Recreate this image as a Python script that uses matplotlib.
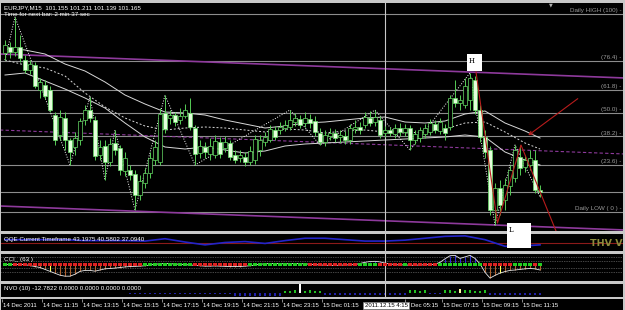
import matplotlib
matplotlib.use("Agg")
import matplotlib.pyplot as plt
from matplotlib.patches import Rectangle
from matplotlib import font_manager

# ---------------- data ----------------
opens = [102.54, 102.60, 102.55, 102.60, 102.47, 102.37, 102.42, 102.17, 102.22, 102.17,
         101.92, 101.72, 101.89, 101.67, 101.60, 101.67, 101.87, 101.97, 101.87, 101.52,
         101.61, 101.45, 101.64, 101.59, 101.36, 101.37, 101.33, 101.12, 101.24, 101.34,
         101.47, 101.45, 101.94, 101.89, 101.92, 101.87, 101.91, 101.94, 101.79, 101.54,
         101.60, 101.53, 101.52, 101.65, 101.59, 101.64, 101.52, 101.49, 101.50, 101.45,
         101.47, 101.57, 101.65, 101.67, 101.77, 101.77, 101.79, 101.80, 101.85, 101.88,
         101.84, 101.88, 101.86, 101.74, 101.65, 101.71, 101.74, 101.70, 101.71, 101.67,
         101.78, 101.80, 101.82, 101.89, 101.85, 101.87, 101.74, 101.77, 101.73, 101.79,
         101.75, 101.79, 101.67, 101.69, 101.73, 101.75, 101.83, 101.76, 101.79, 101.80,
         102.09, 102.04, 102.02, 102.07, 102.27, 101.97, 101.70, 101.57, 100.97, 101.19,
         101.07, 101.21, 101.29, 101.50, 101.40, 101.42, 101.47, 101.17]
closes = [102.62, 102.55, 102.60, 102.49, 102.37, 102.43, 102.21, 102.25, 102.11, 101.97,
          101.67, 101.90, 101.67, 101.55, 101.69, 101.86, 101.97, 101.89, 101.51, 101.60,
          101.45, 101.63, 101.57, 101.37, 101.49, 101.32, 101.12, 101.26, 101.34, 101.49,
          101.60, 101.93, 101.78, 101.92, 101.85, 101.91, 101.97, 101.80, 101.53, 101.61,
          101.55, 101.61, 101.66, 101.53, 101.65, 101.50, 101.47, 101.52, 101.45, 101.56,
          101.68, 101.67, 101.70, 101.78, 101.70, 101.80, 101.82, 101.87, 101.89, 101.82,
          101.89, 101.84, 101.75, 101.65, 101.72, 101.74, 101.69, 101.72, 101.67, 101.79,
          101.80, 101.77, 101.90, 101.84, 101.90, 101.72, 101.77, 101.74, 101.79, 101.75,
          101.79, 101.67, 101.73, 101.77, 101.79, 101.84, 101.77, 101.85, 101.74, 102.09,
          102.04, 102.07, 102.21, 102.29, 101.97, 101.70, 101.55, 100.97, 101.19, 101.02,
          101.22, 101.37, 101.57, 101.39, 101.47, 101.49, 101.17, 101.15]
highs = [102.67, 102.65, 102.90, 102.72, 102.52, 102.47, 102.45, 102.29, 102.27, 102.21,
         101.95, 101.97, 101.95, 101.69, 101.75, 101.89, 102.02, 102.10, 101.91, 101.67,
         101.67, 101.69, 101.77, 101.62, 101.55, 101.42, 101.37, 101.32, 101.39, 101.55,
         101.67, 101.99, 102.12, 101.97, 101.95, 101.99, 102.03, 102.09, 101.82, 101.67,
         101.65, 101.69, 101.72, 101.70, 101.71, 101.67, 101.57, 101.57, 101.55, 101.61,
         101.72, 101.72, 101.75, 101.82, 101.81, 101.85, 101.87, 101.97, 101.94, 101.92,
         101.95, 101.93, 101.91, 101.79, 101.77, 101.79, 101.78, 101.77, 101.76, 101.83,
         101.87, 101.85, 101.95, 101.96, 101.97, 101.91, 101.81, 101.80, 101.83, 101.84,
         101.83, 101.82, 101.77, 101.80, 101.83, 101.88, 101.87, 101.89, 101.83, 102.12,
         102.27, 102.12, 102.29, 102.34, 102.31, 102.02, 101.77, 101.61, 101.24, 101.27,
         101.29, 101.42, 101.62, 101.62, 101.52, 101.57, 101.57, 101.22]
lows = [102.47, 102.49, 102.51, 102.45, 102.34, 102.33, 102.19, 102.09, 102.08, 101.95,
        101.62, 101.67, 101.57, 101.42, 101.52, 101.62, 101.82, 101.85, 101.47, 101.47,
        101.27, 101.41, 101.52, 101.32, 101.31, 101.27, 100.97, 101.07, 101.19, 101.29,
        101.42, 101.42, 101.74, 101.83, 101.81, 101.83, 101.89, 101.77, 101.42, 101.49,
        101.49, 101.47, 101.49, 101.49, 101.55, 101.47, 101.44, 101.45, 101.41, 101.42,
        101.43, 101.51, 101.61, 101.65, 101.67, 101.73, 101.76, 101.77, 101.81, 101.79,
        101.80, 101.79, 101.71, 101.62, 101.61, 101.67, 101.65, 101.64, 101.63, 101.63,
        101.74, 101.73, 101.79, 101.81, 101.81, 101.69, 101.70, 101.71, 101.69, 101.71,
        101.71, 101.57, 101.63, 101.65, 101.69, 101.72, 101.74, 101.73, 101.67, 101.77,
        102.00, 101.97, 101.99, 101.97, 101.93, 101.65, 101.49, 100.92, 100.82, 100.92,
        100.97, 101.12, 101.25, 101.32, 101.35, 101.37, 101.14, 101.10]

ma_idx = [0, 4, 8, 12, 16, 20, 24, 28, 32, 36, 40, 44, 48, 52, 56, 60, 64, 68, 72, 76,
          80, 84, 88, 92, 96, 100, 104, 107]
ma_upper = [102.59, 102.57, 102.53, 102.43, 102.36, 102.25, 102.12, 102.03, 101.95, 101.94,
            101.92, 101.87, 101.83, 101.79, 101.81, 101.84, 101.85, 101.87, 101.89, 101.90,
            101.85, 101.84, 101.86, 101.93, 101.96, 101.84, 101.76, 101.69]
ma_mid = [102.47, 102.42, 102.39, 102.31, 102.14, 102.00, 101.89, 101.81, 101.77, 101.79,
          101.80, 101.79, 101.77, 101.75, 101.78, 101.77, 101.74, 101.76, 101.77, 101.75,
          101.74, 101.75, 101.78, 101.84, 101.85, 101.75, 101.64, 101.58]
ma_lower = [102.32, 102.34, 102.26, 102.18, 102.09, 101.99, 101.84, 101.70, 101.60, 101.58,
            101.60, 101.57, 101.54, 101.56, 101.61, 101.63, 101.64, 101.65, 101.66, 101.67,
            101.68, 101.69, 101.70, 101.72, 101.70, 101.55, 101.47, 101.42]

daily_high = 102.93
daily_low = 100.95
bid_price = 101.155
fib_pcts = [100, 76.4, 61.8, 50.0, 38.2, 23.6, 0]
fib_labels = ["Daily HIGH (100) -", "(76.4) -", "(61.8) -", "(50.0) -",
              "(38.2) -", "(23.6) -", "Daily LOW ( 0 ) -"]

channel_x = [-1, 124]
channel_upper = [102.53, 102.29]
channel_mid = [101.77, 101.53]
channel_lower = [101.01, 100.77]

zz_idx = [0, 2, 13, 17, 20, 22, 26, 32, 38, 57, 63, 74, 81, 93, 98, 102, 107]
zz_price = [102.47, 102.90, 101.42, 102.10, 101.27, 101.77, 100.97, 102.12, 101.42,
            101.97, 101.62, 101.97, 101.57, 102.34, 100.82, 101.62, 101.10]

red_idx = [94.2, 98.5, 103.2, 110.2]
red_price = [102.35, 100.84, 101.62, 100.76]
arrow_start = (115.0, 102.10)
arrow_end = (104.2, 101.70)

qqe_vals = [63.3, 63.3, 63.3, 63.3, 58.9, 58.9, 58.9, 56.7, 67.8, 52.2, 38.9, 50.0, 54.4, 45.6,
            58.9, 70.0, 70.0, 63.3, 56.7, 56.7, 61.1, 70.0, 78.9, 81.1, 63.3, 32.2, 34.4, 38.9]
qqe_level = 50

cci_vals = ([0, 0, 0, 0, 0]
            + [-25, -50, -75, -125, -175, -225, -275, -300, -300, -250, -175, -150, -150,
               -170, -140, -110, -100, -90, -75, -60, -50, -45, -40, -30, -10]
            + [10, 20, 30, 25, 15, 10, 0, -10]
            + [-20, -30, -40, -40, -35, -40, -45, -50, -50, -50, -40]
            + [-30, -10, 10, 20, 30, 30, 25, 20, 25, 30, 25, 20]
            + [10, 0, -10, -15, -20, -20, -15, -10, -5, 0]
            + [30, 60, 80, 85, 70, 40, 20, 0, -10]
            + [-5, -20, -15, -10, -5, 0, 10]
            + [60, 150, 230, 240, 160, 200, 240, 160, 20]
            + [-200, -350, -280, -220, -180, -150, -140, -125, -110, -100, -110, -140])
cci_trend = ([1] * 2 + [-1] * 26 + [1] * 10 + [-1] * 11 + [1] * 12 + [-1] * 10 + [1] * 4
             + [-1] * 5 + [1] * 1 + [-1] * 6 + [1] * 9 + [-1] * 6 + [1] * 4 + [-1] + [1])
cci_levels = [200, 100, -100, -200]
cci_yellow = [9, 99]

nvo_vals = ([0] * 25 + [-1] * 21 + [-3] * 10 + [2, 2, 3, 9, 2, 3, 2, 2] + [-1.5] * 17
            + [3, 3, 2, 3] + [-1, -1, -1] + [3, 3, 2, 4, 3, 3, 2, 2, 3] + [-1.5] * 11)
nvo_white = [59]
nvo_yellow = [91]

# labels of the time scale as they appear (the 03:15 one is hidden by the cursor box,
# the 05:15 one is partly covered by it)
time_labels = ["14 Dec 2011", "14 Dec 11:15", "14 Dec 13:15", "14 Dec 15:15", "14 Dec 17:15",
               "14 Dec 19:15", "14 Dec 21:15", "14 Dec 23:15", "15 Dec 01:15",
               "5 Dec 05:15", "15 Dec 07:15", "15 Dec 09:15", "15 Dec 11:15"]
time_idx = [0, 8, 16, 24, 32, 40, 48, 56, 64, 80.6, 88, 96, 104]
cursor_idx = 76
cursor_label = "2011.12.15 4:15"
header = "EURJPY,M15  101.155 101.211 101.139 101.165"
timer = "Time for next bar: 2 min 37 sec"
qqe_title = "QQE Current Timeframe 43.1975 40.5802 37.0940"
cci_title = "CCI_ (63 )"
nvo_title = "NVO (10) -12.7822 0.0000 0.0000 0.0000 0.0000"

# ---------------- style ----------------
avail = {f.name for f in font_manager.fontManager.ttflist}
FONT = next((f for f in ["Liberation Sans Narrow", "Liberation Sans", "DejaVu Sans"] if f in avail),
            "DejaVu Sans")
plt.rcParams["font.family"] = [FONT, "DejaVu Sans"]
FS = 4.5
FS_T = 4.3
W, H = 625, 310
XL = (-0.8, 123.6)

fig = plt.figure(figsize=(W / 100, H / 100), dpi=100, facecolor="#c8c8c8")


def ax_px(x0, y0, x1, y1):
    a = fig.add_axes([x0 / W, 1 - y1 / H, (x1 - x0) / W, (y1 - y0) / H])
    a.set_facecolor("black")
    for s in a.spines.values():
        s.set_visible(False)
    a.set_xticks([])
    a.set_yticks([])
    a.set_xlim(*XL)
    return a


ax = ax_px(1, 3, 623, 231)
aq = ax_px(1, 234, 623, 251)
ac = ax_px(1, 254, 623, 281)
an = ax_px(1, 284, 623, 297)
at = ax_px(1, 299, 623, 310)

# ---------------- main chart ----------------
ax.set_ylim(100.76, 103.04)
rng = daily_high - daily_low
for p, lab in zip(fib_pcts, fib_labels):
    lv = daily_low + p / 100 * rng
    ax.axhline(lv, color="#8c8c8c", lw=0.8, zorder=1)
    ax.annotate(lab, xy=(1, lv), xycoords=("axes fraction", "data"), xytext=(-1, 0.6),
                textcoords="offset points", ha="right", va="bottom", fontsize=FS, color="#9a9a9a")
ax.axhline(bid_price, color="#8c8c8c", lw=0.8, zorder=1)

ax.plot(channel_x, channel_upper, color="#8e3a9c", lw=1.2, zorder=2)
ax.plot(channel_x, channel_lower, color="#8e3a9c", lw=1.2, zorder=2)
ax.plot(channel_x, channel_mid, color="#8e3a9c", lw=0.8, ls=(0, (3, 2)), zorder=2)

ax.axvline(cursor_idx, color="#c8c8c8", lw=0.8, zorder=2)

ax.plot(ma_idx, ma_upper, color="#d8d8d8", lw=0.7, zorder=3)
ax.plot(ma_idx, ma_mid, color="#d8d8d8", lw=0.7, ls=(0, (2, 2)), zorder=3)
ax.plot(ma_idx, ma_lower, color="#d8d8d8", lw=0.7, zorder=3)
ax.plot(zz_idx, zz_price, color="white", lw=0.7, ls=":", zorder=3)

for i, (o, h, l, c) in enumerate(zip(opens, highs, lows, closes)):
    ax.vlines(i, l, h, color="#55cc55", lw=0.7, zorder=4)
    bear = c < o
    lo, hi = min(o, c), max(o, c)
    ax.add_patch(Rectangle((i - 0.32, lo), 0.64, max(hi - lo, 0.004),
                           facecolor="#e4ffdc" if bear else "black",
                           edgecolor="#66dd66", lw=0.5, zorder=5))

ax.plot(red_idx, red_price, color="#b81c1c", lw=0.8, zorder=6)
ax.annotate("", xy=arrow_end, xytext=arrow_start,
            arrowprops=dict(arrowstyle="->", color="#b81c1c", lw=0.8,
                            mutation_scale=6), zorder=6)

# ---------------- QQE ----------------
aq.set_ylim(10, 90)
aq.axhline(qqe_level, color="#8b1a1a", lw=0.8)
aq.plot(ma_idx, qqe_vals, color="#2424c8", lw=1.2)
aq.axvline(cursor_idx, color="#c8c8c8", lw=0.8)

# ---------------- CCI ----------------
ac.set_ylim(-425, 275)
for lv in cci_levels:
    ac.axhline(lv, color="#8c8c8c", lw=0.5, ls=(0, (1, 1.5)))
for i, v in enumerate(cci_vals):
    col = "#b0602c" if v < 0 else "#2a2ad8"
    if i in cci_yellow:
        col = "#ffff55"
    ac.vlines(i, 0, v, color=col, lw=0.8)
ac.plot(range(len(cci_vals)), cci_vals, color="#e8e8e8", lw=0.6)
ac.scatter(range(len(cci_trend)), [0] * len(cci_trend), marker="s", s=5, linewidths=0,
           c=["#22cc22" if t > 0 else "#dd2222" for t in cci_trend], zorder=5)
ac.axvline(cursor_idx, color="#c8c8c8", lw=0.8)

# ---------------- NVO ----------------
an.set_ylim(-4, 9)
ncols = []
for i, v in enumerate(nvo_vals):
    if i in nvo_white:
        ncols.append("white")
    elif i in nvo_yellow:
        ncols.append("#ffffa0")
    else:
        ncols.append("#22c022" if v > 0 else "#2020a8")
an.bar(range(len(nvo_vals)), nvo_vals, width=0.4, color=ncols)
an.axvline(cursor_idx, color="#c8c8c8", lw=0.8)

# ---------------- time axis ----------------
at.set_ylim(0, 1)
for idx, lab in zip(time_idx, time_labels):
    at.vlines(idx - 0.6, 0.75, 1.0, color="#a0a0a0", lw=0.6)
    at.text(idx - 0.4, 0.42, lab, fontsize=FS_T, color="white", ha="left", va="center")
at.text(cursor_idx + 0.2, 0.42, cursor_label, fontsize=FS_T, color="black", ha="center",
        va="center",
        bbox=dict(boxstyle="square,pad=0.2", facecolor="white", edgecolor="#808080", lw=0.5),
        zorder=10)

# ---------------- texts / labels ----------------
fig.text(4 / W, 1 - 8 / H, header, fontsize=FS, color="white", va="center", ha="left")
fig.text(4 / W, 1 - 15 / H, timer, fontsize=FS, color="white", va="center", ha="left")
fig.text(551 / W, 1 - 5 / H, "\u25bc", fontsize=3.5, color="#b0b0b0", va="center", ha="center",
         family="DejaVu Sans")
fig.text(4 / W, 1 - 240 / H, qqe_title, fontsize=FS, color="white", va="center", ha="left")
fig.text(4 / W, 1 - 259 / H, cci_title, fontsize=FS, color="white", va="center", ha="left")
fig.text(4 / W, 1 - 288.5 / H, nvo_title, fontsize=FS, color="white", va="center", ha="left")
fig.text(590 / W, 1 - 243 / H, "THV V", fontsize=6.8, color="#8c8c3c", fontweight="bold",
         va="center", ha="left", family="DejaVu Sans")

fig.add_artist(Rectangle((467 / W, 1 - 71 / H), 15 / W, 17 / H, transform=fig.transFigure,
                         facecolor="white", edgecolor="none", zorder=20))
fig.text(469 / W, 1 - 61 / H, "H", fontsize=5, color="black", family="DejaVu Serif",
         va="center", ha="left", zorder=21)
fig.add_artist(Rectangle((507 / W, 1 - 248 / H), 24 / W, 25 / H, transform=fig.transFigure,
                         facecolor="white", edgecolor="none", zorder=20))
fig.text(509 / W, 1 - 230 / H, "L", fontsize=5, color="black", family="DejaVu Serif",
         va="center", ha="left", zorder=21)

fig.savefig("out.png", dpi=100, facecolor=fig.get_facecolor())
